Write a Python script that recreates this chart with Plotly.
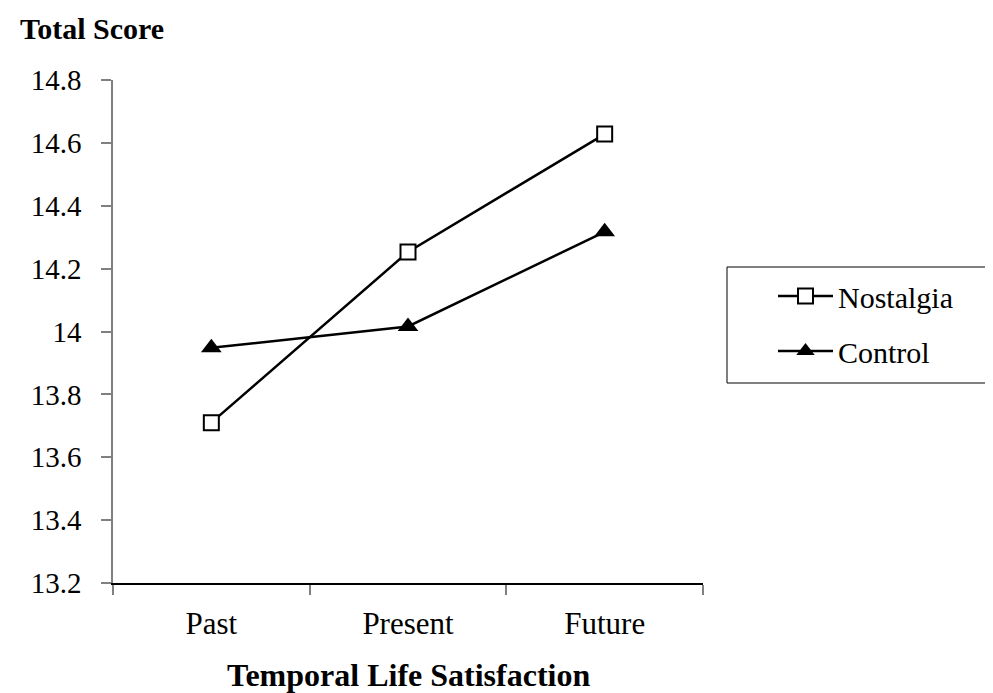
import plotly.graph_objects as go

categories = ["Past", "Present", "Future"]
nostalgia = [13.71, 14.253, 14.628]
control = [13.948, 14.016, 14.317]
y_tickvals = [13.2, 13.4, 13.6, 13.8, 14.0, 14.2, 14.4, 14.6, 14.8]
y_ticktext = ["13.2", "13.4", "13.6", "13.8", "14", "14.2", "14.4", "14.6", "14.8"]

FONT = "Times New Roman, Tinos, Liberation Serif, Times, serif"

# plot area in figure pixels (page has an 8px body margin)
L, R, T, B = 105, 695, 72, 575
PW, PH = R - L, B - T

fig = go.Figure()
fig.add_trace(go.Scatter(
    x=categories, y=nostalgia, name="Nostalgia", mode="lines+markers",
    line=dict(color="black", width=2.5),
    marker=dict(symbol="square", size=15, color="white", line=dict(color="black", width=2)),
    legendgroup="a",
))
fig.add_trace(go.Scatter(
    x=categories, y=control, name="Control", mode="lines+markers",
    line=dict(color="black", width=2.5),
    marker=dict(symbol="triangle-up", size=18, color="black", line=dict(color="black", width=0)),
    legendgroup="b",
))

fig.update_layout(
    width=993, height=693,
    margin=dict(l=L, r=993 - R, t=T, b=693 - B),
    paper_bgcolor="white", plot_bgcolor="white",
    font=dict(family=FONT, size=28, color="black"),
    showlegend=True,
    legend=dict(
        x=(765 - L) / PW, y=(B - 262) / PH, xanchor="left", yanchor="top",
        font=dict(size=30, family=FONT), itemwidth=55, tracegroupgap=13,
        traceorder="grouped", bgcolor="rgba(0,0,0,0)",
    ),
    xaxis=dict(
        type="category", tickson="boundaries", ticks="outside", ticklen=10,
        tickcolor="#808080", tickwidth=1.5,
        showline=True, linecolor="black", linewidth=1.5,
        showgrid=False, zeroline=False, range=[-0.5, 2.5],
        ticklabelstandoff=12, tickfont=dict(size=31, family=FONT),
    ),
    yaxis=dict(
        range=[13.2, 14.8], tickvals=y_tickvals, ticktext=y_ticktext,
        ticks="outside", ticklen=10, tickcolor="#808080", tickwidth=1.5,
        showline=True, linecolor="#808080", linewidth=1.5,
        showgrid=False, zeroline=False, ticklabelstandoff=14,
        tickfont=dict(size=29, family=FONT),
    ),
    annotations=[
        dict(
            text="<b>Total Score</b>", xref="paper", yref="paper",
            x=(10 - L) / PW, y=(B - 20) / PH, xanchor="left", yanchor="middle",
            showarrow=False, font=dict(size=30, family=FONT),
        ),
        dict(
            text="<b>Temporal Life Satisfaction</b>", xref="paper", yref="paper",
            x=0.5, y=(B - 667) / PH, xanchor="center", yanchor="middle",
            showarrow=False, font=dict(size=32, family=FONT),
        ),
    ],
    shapes=[dict(
        type="rect", xref="paper", yref="paper",
        x0=(719 - L) / PW, x1=(982 - L) / PW,
        y0=(B - 375) / PH, y1=(B - 259) / PH,
        line=dict(color="black", width=1), fillcolor="rgba(0,0,0,0)",
    )],
)

fig.write_html("out.html")
